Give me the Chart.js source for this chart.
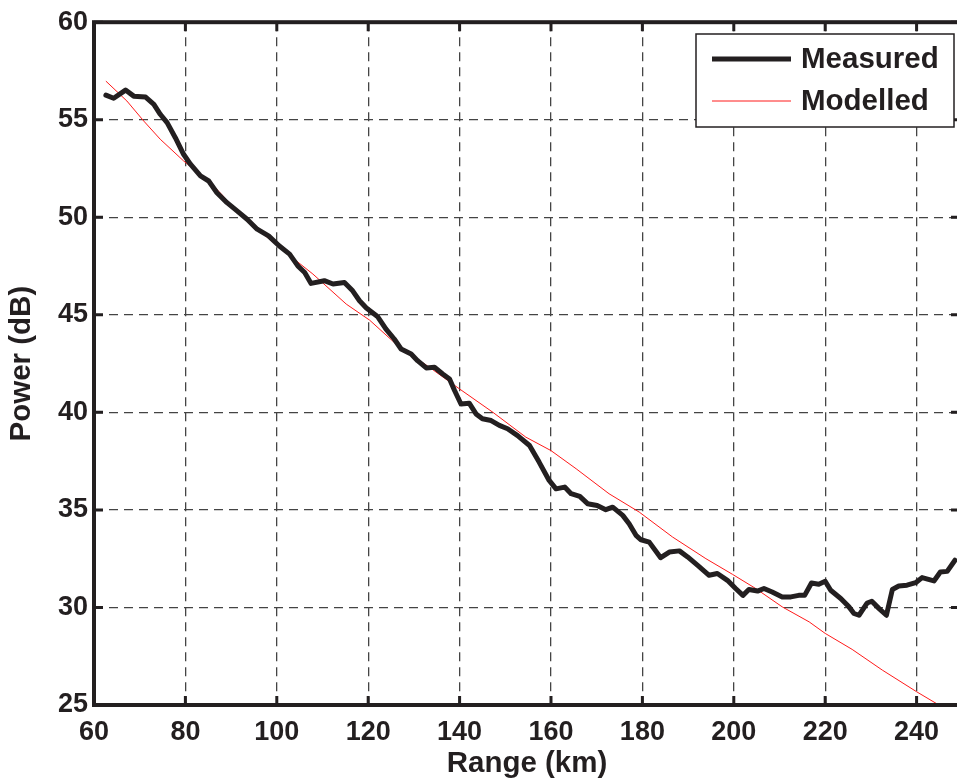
<!DOCTYPE html>
<html>
<head>
<meta charset="utf-8">
<title>Power vs Range</title>
<script src="https://cdn.jsdelivr.net/npm/chart.js@4.4.1/dist/chart.umd.min.js"></script>
<style>
  html, body { margin: 0; padding: 0; background: #fff; overflow: hidden; }
  #wrap { width: 957px; height: 782px; overflow: hidden; }
  canvas { display: block; }
</style>
</head>
<body>
<div id="wrap"><canvas id="chart" width="960" height="782"></canvas></div>
<script>
// ── Data ──
const rangeMeasured = [62.6, 64.3, 66.9, 68.7, 71.3, 73.1, 74.5, 76.0, 77.8, 79.6, 81.1, 83.3, 85.1, 86.9, 89.1, 91.3,
    93.5, 95.7, 98.2, 100.5, 102.8, 104.6, 106.1, 107.5, 110.4, 112.3, 114.8, 116.6, 118.1, 119.6, 122.1, 123.9,
    125.7, 127.2, 129.4, 130.8, 132.7, 134.5, 136.3, 137.8, 138.9, 140.3, 142.1, 143.6, 145.0, 146.9, 148.7, 150.5,
    152.7, 155.3, 157.4, 159.6, 161.1, 163.0, 164.4, 166.3, 168.0, 170.1, 172.0, 173.5, 175.7, 177.1, 178.6, 179.7,
    181.5, 184.0, 185.9, 188.1, 189.9, 192.1, 194.6, 196.4, 198.6, 200.4, 202.0, 203.3, 205.2, 206.6, 208.4, 210.6,
    212.5, 214.2, 215.5, 217.0, 218.6, 220.0, 221.2, 223.4, 225.2, 226.3, 227.4, 229.2, 230.2, 231.8, 233.4, 234.7,
    236.1, 237.9, 239.8, 241.2, 243.8, 245.2, 246.7, 248.4];
const powerMeasured = [56.26, 56.10, 56.52, 56.21, 56.16, 55.79, 55.28, 54.85, 54.08, 53.23, 52.72, 52.12, 51.86, 51.26, 50.75, 50.33,
    49.90, 49.39, 49.05, 48.54, 48.11, 47.51, 47.17, 46.61, 46.75, 46.58, 46.66, 46.23, 45.72, 45.35, 44.90, 44.27,
    43.76, 43.25, 42.99, 42.65, 42.28, 42.31, 41.97, 41.71, 41.12, 40.43, 40.47, 39.92, 39.67, 39.58, 39.33, 39.16,
    38.81, 38.30, 37.45, 36.51, 36.08, 36.17, 35.83, 35.69, 35.32, 35.23, 35.01, 35.14, 34.72, 34.29, 33.70, 33.47,
    33.35, 32.55, 32.84, 32.90, 32.59, 32.16, 31.65, 31.74, 31.39, 30.97, 30.62, 30.92, 30.84, 30.97, 30.79, 30.54,
    30.54, 30.62, 30.62, 31.25, 31.19, 31.34, 30.88, 30.46, 30.03, 29.69, 29.60, 30.23, 30.32, 29.94, 29.60, 30.92,
    31.10, 31.14, 31.27, 31.53, 31.36, 31.82, 31.85, 32.42];

const rangeModelled = [62.6, 67.2, 70.9, 74.5, 79.6, 85.5, 92.7, 100.6, 107.9, 115.2, 120.3, 126.1, 133.4, 140.0, 147.3, 154.5,
    160.0, 165.5, 172.7, 179.3, 186.6, 193.9, 199.7, 204.8, 210.6, 216.5, 220.0, 225.9, 232.5, 240.0, 245.6];
const powerModelled = [56.98, 55.96, 54.93, 54.00, 52.89, 51.78, 49.98, 48.45, 47.09, 45.55, 44.73, 43.50, 42.31, 41.20, 40.00, 38.73,
    38.04, 37.11, 35.83, 34.89, 33.61, 32.50, 31.70, 30.97, 30.03, 29.26, 28.67, 27.85, 26.79, 25.68, 24.90];

const xTicks = [60, 80, 100, 120, 140, 160, 180, 200, 220, 240];
const yTicks = [25, 30, 35, 40, 45, 50, 55, 60];

const INK  = '#231f20';
const FAM  = '"Liberation Sans", Arial, sans-serif';
const font = size => ({ family: FAM, size, weight: 'bold' });
const pts  = (xs, ys) => xs.map((x, i) => ({ x, y: ys[i] }));

// ── Plugin: axes box, inward tick marks and legend box ──
const axesBox = {
    id: 'axesBox',
    afterDraw(chart) {
        const { ctx, chartArea: a, scales } = chart;
        const tl = 9;
        ctx.save();
        ctx.strokeStyle = INK;

        // tick marks (inside the box)
        ctx.lineWidth = 3;
        ctx.beginPath();
        xTicks.forEach(v => {
            const x = scales.x.getPixelForValue(v);
            ctx.moveTo(x, a.bottom); ctx.lineTo(x, a.bottom - tl);
            ctx.moveTo(x, a.top);    ctx.lineTo(x, a.top + tl);
        });
        yTicks.forEach(v => {
            const y = scales.y.getPixelForValue(v);
            ctx.moveTo(a.left, y);  ctx.lineTo(a.left + tl, y);
            ctx.moveTo(a.right, y); ctx.lineTo(a.right - tl, y);
        });
        ctx.stroke();

        // frame
        ctx.lineWidth = 4;
        ctx.strokeRect(a.left, a.top, a.right - a.left, a.bottom - a.top);

        // legend
        const bx = 696, by = 34, bw = 258, bh = 93;
        ctx.fillStyle = '#fff';
        ctx.fillRect(bx, by, bw, bh);
        ctx.lineWidth = 1.5;
        ctx.strokeRect(bx, by, bw, bh);
        const rows = [59, 101];
        chart.data.datasets.forEach((ds, i) => {
            ctx.strokeStyle = ds.borderColor;
            ctx.lineWidth = ds.borderWidth;
            ctx.beginPath();
            ctx.moveTo(712, rows[i]); ctx.lineTo(791, rows[i]);
            ctx.stroke();
            ctx.fillStyle = INK;
            ctx.font = 'bold 29.5px ' + FAM;
            ctx.textBaseline = 'middle';
            ctx.fillText(ds.label, 801, rows[i] + 1);
        });
        ctx.restore();
    }
};

const gridStyle = { color: '#444', lineWidth: 1.3, drawTicks: false, tickLength: 0 };

new Chart(document.getElementById('chart'), {
    type: 'line',
    data: {
        datasets: [
            {
                label: 'Measured',
                data: pts(rangeMeasured, powerMeasured),
                borderColor: INK,
                borderWidth: 5,
                borderJoinStyle: 'round',
                borderCapStyle: 'round',
                pointRadius: 0,
                tension: 0
            },
            {
                label: 'Modelled',
                data: pts(rangeModelled, powerModelled),
                borderColor: '#ff1a1a',
                borderWidth: 1,
                pointRadius: 0,
                tension: 0
            }
        ]
    },
    options: {
        responsive: false,
        animation: false,
        devicePixelRatio: 1,
        layout: { padding: { top: 21, right: 0, bottom: 0, left: 0 } },
        plugins: { legend: { display: false }, tooltip: { enabled: false } },
        scales: {
            x: {
                type: 'linear',
                min: 60,
                max: 249.5,
                afterFit: s => { s.height = 77; },
                afterBuildTicks: s => { s.ticks = xTicks.map(value => ({ value })); },
                grid: gridStyle,
                border: { display: false, dash: [9, 6] },
                ticks: { font: font(27), color: INK, padding: 11, maxRotation: 0, autoSkip: false, includeBounds: false },
                title: { display: true, text: 'Range (km)', font: font(29.5), color: INK, padding: { top: 0, bottom: 0 } }
            },
            y: {
                type: 'linear',
                min: 25,
                max: 60,
                afterFit: s => { s.width = 94; },
                afterBuildTicks: s => { s.ticks = yTicks.map(value => ({ value })); },
                grid: gridStyle,
                border: { display: false, dash: [9, 6] },
                ticks: { font: font(27), color: INK, padding: 6, autoSkip: false, includeBounds: false },
                title: { display: true, text: 'Power (dB)', font: font(29.5), color: INK, padding: { top: 4, bottom: 0 } }
            }
        }
    },
    plugins: [axesBox]
});
</script>
</body>
</html>
